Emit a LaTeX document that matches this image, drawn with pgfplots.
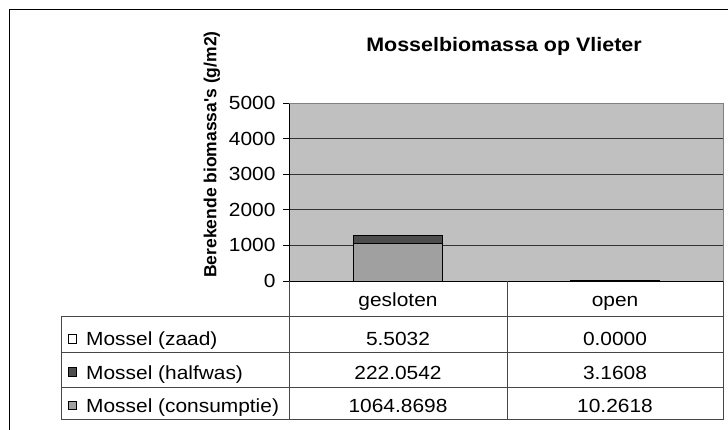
\documentclass[border=0pt]{standalone}
\usepackage{fontspec}
\setmainfont{Liberation Sans}[FakeStretch=1.1]
\newfontfamily\labfont{Liberation Sans}
\usepackage{pgfplots}
\pgfplotsset{compat=1.18}
\definecolor{plotbg}{RGB}{192,192,192}
\definecolor{halfwas}{RGB}{77,77,77}
\definecolor{consumptie}{RGB}{160,160,160}
\definecolor{tabline}{RGB}{70,70,70}

\newcommand{\tabfont}{\fontsize{19}{22}\selectfont}

\begin{document}
\begin{tikzpicture}[x=1pt,y=1pt]
\useasboundingbox (0,0) rectangle (728,429);
\begin{scope}
  \clip (0,0) rectangle (728,429);
  \draw[black, line width=1pt] (9,-10) -- (9,419) -- (740,419);
\end{scope}

\begin{axis}[
    at={(289pt,148pt)}, anchor=south west,
    scale only axis, width=434pt, height=178pt,
    xmin=-0.5, xmax=1.5, ymin=0, ymax=5000,
    ytick={0,1000,...,5000}, xtick=\empty,
    ytick pos=left, tick align=outside, major tick length=6pt,
    tick style={black, line width=0.8pt},
    yticklabel style={font=\tabfont, xshift=-4pt},
    /pgf/number format/assume math mode=true,
    /pgf/number format/1000 sep={},
    ybar stacked, bar width=89pt,
    axis background/.style={fill=plotbg},
    ymajorgrids, major grid style={black!80, line width=0.8pt},
    axis line style={draw=none},
    clip=false,
]
\addplot[fill=consumptie, draw=black, line width=0.8pt] coordinates {(0,1064.8698) (1,10.2618)};
\addplot[fill=halfwas, draw=black, line width=0.8pt] coordinates {(0,222.0542) (1,3.1608)};
\addplot[fill=white, draw=black, line width=0.8pt] coordinates {(0,5.5032) (1,0)};
\draw[gray, line width=0.8pt] (rel axis cs:0,1) -- (rel axis cs:1,1) -- (rel axis cs:1,0);
\draw[black, line width=0.8pt] (rel axis cs:0,1) -- (rel axis cs:0,0) -- (rel axis cs:1,0);
\end{axis}

% titles
\node[font=\bfseries\fontsize{19.5}{22}\selectfont, anchor=base, inner sep=0pt] at (504,377.3) {Mosselbiomassa op Vlieter};
\node[rotate=90, font=\labfont\bfseries\fontsize{17.5}{20}\selectfont] at (212,274.5)
  {Berekende biomassa\textquotesingle s (g/m2)};

% data table
\draw[tabline, line width=0.8pt] (289,148) -- (289,10) (507,148) -- (507,10) (723,148) -- (723,10);
\draw[tabline, line width=0.8pt] (61,112.5) rectangle (723,10);
\draw[tabline, line width=0.8pt] (61,77) -- (723,77) (61,42) -- (723,42);
\tikzset{tab/.style={font=\tabfont, anchor=base, inner sep=0pt},
         leg/.style={font=\tabfont, anchor=base west, inner sep=0pt}}
\node[tab] at (398,122.3) {gesloten};
\node[tab] at (615,122.3) {open};
\draw[black, fill=white] (68,86.3) rectangle (76.4,94.7);
\node[leg] at (86,83.3) {Mossel (zaad)};
\node[tab] at (398,83.3) {5.5032};
\node[tab] at (615,83.3) {0.0000};
\draw[black, fill=halfwas] (68,53) rectangle (76.4,61.4);
\node[leg] at (86,50) {Mossel (halfwas)};
\node[tab] at (398,50) {222.0542};
\node[tab] at (615,50) {3.1608};
\draw[black, fill=consumptie] (68,19.7) rectangle (76.4,28.1);
\node[leg] at (86,16.7) {Mossel (consumptie)};
\node[tab] at (398,16.7) {1064.8698};
\node[tab] at (615,16.7) {10.2618};
\end{tikzpicture}
\end{document}
